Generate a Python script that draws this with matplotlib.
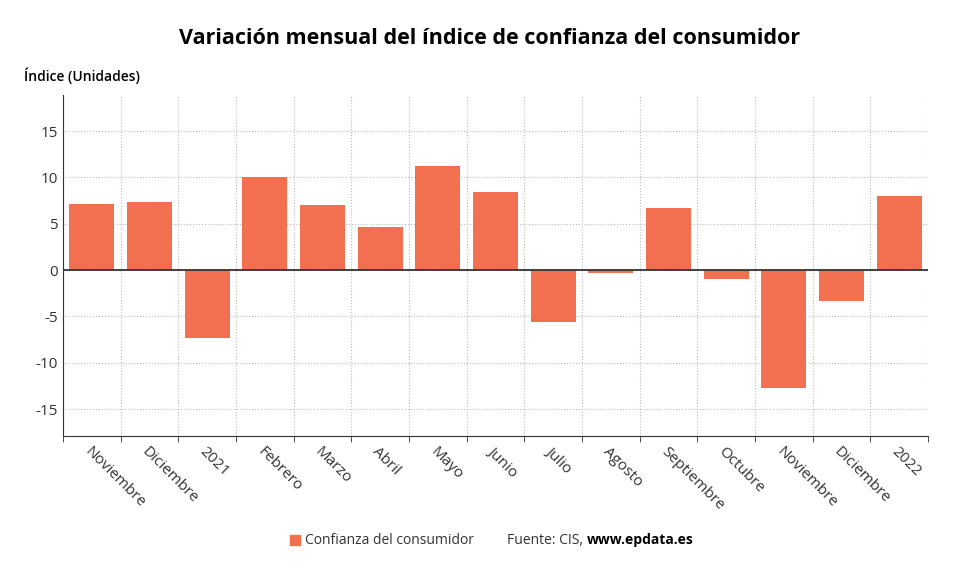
import matplotlib
matplotlib.use("Agg")
import matplotlib.pyplot as plt
import numpy as np

plt.rcParams['font.family'] = ['Open Sans', 'DejaVu Sans']

categories = ["Noviembre", "Diciembre", "2021", "Febrero", "Marzo", "Abril", "Mayo", "Junio",
              "Julio", "Agosto", "Septiembre", "Octubre", "Noviembre", "Diciembre", "2022"]
values = [7.1, 7.3, -7.3, 10.1, 7.0, 4.7, 11.2, 8.4, -5.6, -0.3, 6.7, -1.0, -12.7, -3.3, 8.0]
yticks = [-15, -10, -5, 0, 5, 10, 15]

fig = plt.figure(figsize=(9.8, 5.75), dpi=100)
ax = fig.add_axes([63/980, 1-436/575, (928-63)/980, (436-95)/575])
x = np.arange(len(categories))
ax.bar(x, values, width=0.78, color="#F26F50", zorder=3, label="Confianza del consumidor")
ax.set_xlim(-0.5, len(categories)-0.5)
ax.set_ylim(-17.9, 18.9)
ax.set_yticks(yticks)
ax.set_yticklabels([str(v) for v in yticks], fontsize=11, color="#333333")
ax.set_xticks(x)
ax.set_xticklabels(categories, rotation=-45, ha="left", rotation_mode="anchor", fontsize=11, color="#333333")
ax.set_xticks(np.arange(len(categories)+1)-0.5, minor=True)
ax.grid(axis="x", which="minor", linestyle=":", color="#bbbbbb", zorder=0)
ax.grid(axis="y", which="major", linestyle=":", color="#bbbbbb", zorder=0)
ax.tick_params(axis="x", which="major", length=0, pad=6)
ax.tick_params(axis="x", which="minor", length=4, color="#333333")
ax.tick_params(axis="y", length=0)
ax.axhline(0, color="#333333", linewidth=1.3, zorder=4)
for s in ["top", "right"]:
    ax.spines[s].set_visible(False)
ax.spines["left"].set_color("#333333")
ax.spines["bottom"].set_color("#333333")

fig.text(0.5, 1-38/575, "Variación mensual del índice de confianza del consumidor",
         ha="center", va="center", fontsize=15.5, fontweight="bold")
fig.text(24/980, 1-76/575, "Índice (Unidades)", ha="left", va="center", fontsize=10, fontweight="semibold")

fig.patches.append(plt.Rectangle((290/980, 1-545/575), 10/980, 10/575, color="#F26F50",
                                 transform=fig.transFigure))
fig.text(305/980, 1-540/575, "Confianza del consumidor", ha="left", va="center", fontsize=10, color="#333333")
fig.text(507/980, 1-540/575, "Fuente: CIS, ", ha="left", va="center", fontsize=10, color="#333333")
fig.text(587/980, 1-540/575, "www.epdata.es", ha="left", va="center", fontsize=10, fontweight="bold")

fig.savefig("out.png", dpi=100)
